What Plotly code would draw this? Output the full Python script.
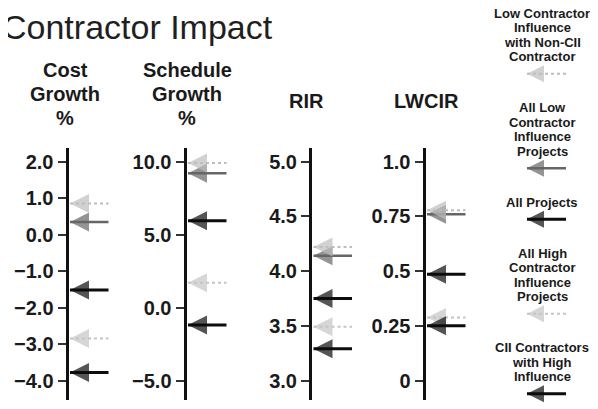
import plotly.graph_objects as go

W, H = 598, 409

# ---------------- data ----------------
series_names = [
    "Low Contractor Influence with Non-CII Contractor",
    "All Low Contractor Influence Projects",
    "All Projects",
    "All High Contractor Influence Projects",
    "CII Contractors with High Influence",
]
legend_lines = [
    ["Low Contractor", "Influence", "with Non-CII", "Contractor"],
    ["All Low", "Contractor", "Influence", "Projects"],
    ["All Projects"],
    ["All High", "Contractor", "Influence", "Projects"],
    ["CII Contractors", "with High", "Influence"],
]

header_lines = [["Cost", "Growth", "%"], ["Schedule", "Growth", "%"], ["RIR"], ["LWCIR"]]

cost_growth = [0.85, 0.34, -1.52, -2.85, -3.78]
schedule_growth = [9.9, 9.2, 5.95, 1.7, -1.2]
rir = [4.22, 4.14, 3.75, 3.49, 3.29]
lwcir = [0.777, 0.759, 0.485, 0.288, 0.25]

cost_ticks = [2.0, 1.0, 0.0, -1.0, -2.0, -3.0, -4.0]
cost_ticktext = ["2.0", "1.0", "0.0", "\u22121.0", "\u22122.0", "\u22123.0", "\u22124.0"]
schedule_ticks = [10.0, 5.0, 0.0, -5.0]
schedule_ticktext = ["10.0", "5.0", "0.0", "\u22125.0"]
rir_ticks = [5.0, 4.5, 4.0, 3.5, 3.0]
rir_ticktext = ["5.0", "4.5", "4.0", "3.5", "3.0"]
lwcir_ticks = [1.0, 0.75, 0.5, 0.25, 0.0]
lwcir_ticktext = ["1.0", "0.75", "0.5", "0.25", "0"]

columns = [
    (cost_growth, cost_ticks, cost_ticktext),
    (schedule_growth, schedule_ticks, schedule_ticktext),
    (rir, rir_ticks, rir_ticktext),
    (lwcir, lwcir_ticks, lwcir_ticktext),
]

# ---------------- style / layout ----------------
FONT = "Liberation Sans, Arial, Helvetica, sans-serif"
TXT = "#1a1a1a"
colors = ["#bdbdbd", "#666666", "#0d0d0d", "#c4c4c4", "#0d0d0d"]
dashes = ["dot", "solid", "solid", "dot", "solid"]
shaft_w = [2, 2.5, 3, 2, 3]
draw_order = [1, 0, 2, 3, 4]

OFF = 8  # page body margin offset (screen px -> figure px)

axis_px = [67 - OFF, 185 - OFF, 310.5 - OFF, 424 - OFF]   # vertical axis centres
header_cx = [65 - OFF, 187 - OFF, 306 - OFF, 426 - OFF]
AX_TOP, AX_BOT = 148 - OFF, 400 - OFF
TK_TOP, TK_BOT = 161.5 - OFF, 380.5 - OFF
LW = 3
XW = 50
TIP, TAIL, HEAD = 1.5, 40, 19


def pxx(x):
    return x / W


def pxy(y):
    return 1 - y / H


fig = go.Figure()
layout = dict(
    width=W, height=H, margin=dict(l=0, r=0, t=0, b=0, autoexpand=False),
    paper_bgcolor="white", plot_bgcolor="rgba(0,0,0,0)",
    showlegend=False, font=dict(family=FONT, color=TXT),
)

for i, (vals, tv, tt) in enumerate(columns):
    k = i + 1
    xa, ya = f"x{k}", f"y{k}"
    m, M = min(tv), max(tv)
    unit = (TK_BOT - TK_TOP) / (M - m)
    rng = [m - (AX_BOT - TK_BOT) / unit, M + (TK_TOP - AX_TOP) / unit]
    left = axis_px[i] + LW / 2
    layout[f"xaxis{k}"] = dict(domain=[pxx(left), pxx(left + XW)],
                               range=[0, XW], visible=False, anchor=ya)
    layout[f"yaxis{k}"] = dict(domain=[pxy(AX_BOT), pxy(AX_TOP)], range=rng, anchor=xa,
                               showline=True, linewidth=LW, linecolor="#111",
                               ticks="outside", ticklen=8, tickwidth=1.5, tickcolor="#333",
                               tickvals=tv, ticktext=tt, showgrid=False, zeroline=False,
                               automargin=False,
                               tickfont=dict(family=FONT, size=20, color=TXT, weight="bold"))
    for s in draw_order:
        fig.add_trace(go.Scatter(
            x=[TIP, TAIL], y=[vals[s], vals[s]], xaxis=xa, yaxis=ya,
            mode="lines+markers", name=series_names[s], cliponaxis=False,
            line=dict(color=colors[s], width=shaft_w[s], dash=dashes[s]),
            marker=dict(symbol=["arrow-left", "circle"], size=[HEAD, 0],
                        color=colors[s], line=dict(width=0)),
            hoverinfo="name+y"))

# legend (drawn in a pixel-space helper axis)
layout["xaxis5"] = dict(domain=[0, 1], range=[0, W], visible=False, anchor="y5")
layout["yaxis5"] = dict(domain=[0, 1], range=[H, 0], visible=False, anchor="x5")

annotations = []
LEG_CX = 542 - OFF
LEG_X0, LEG_X1 = 527 - OFF, 566 - OFF
LS = 14.5
y = 13.3 - OFF
for s, lines in enumerate(legend_lines):
    for j, ln in enumerate(lines):
        annotations.append(dict(x=pxx(LEG_CX), y=pxy(y + j * LS), xref="paper", yref="paper",
                                text=f"<b>{ln}</b>", showarrow=False, xanchor="center",
                                yanchor="middle", font=dict(family=FONT, size=13, color=TXT)))
    ay = y + (len(lines) - 1) * LS + 17
    fig.add_trace(go.Scatter(
        x=[LEG_X0, LEG_X1], y=[ay, ay], xaxis="x5", yaxis="y5", mode="lines+markers",
        name=series_names[s], cliponaxis=False,
        line=dict(color=colors[s], width=shaft_w[s], dash=dashes[s]),
        marker=dict(symbol=["arrow-left", "circle"], size=[HEAD - 2, 0],
                    color=colors[s], line=dict(width=0)),
        hoverinfo="name"))
    y = ay + 34

# column headers
for i, lines in enumerate(header_lines):
    if len(lines) == 1:
        ys = [101 - OFF]
    else:
        ys = [70 - OFF + 24 * j for j in range(len(lines))]
    for ln, yy in zip(lines, ys):
        annotations.append(dict(x=pxx(header_cx[i]), y=pxy(yy), xref="paper", yref="paper",
                                text=f"<b>{ln}</b>", showarrow=False, xanchor="center",
                                yanchor="middle", font=dict(family=FONT, size=20, color=TXT)))

# title
annotations.append(dict(x=pxx(0 - OFF), y=pxy(27 - OFF), xref="paper", yref="paper",
                        text="Contractor Impact", showarrow=False, xanchor="left",
                        yanchor="middle", font=dict(family=FONT, size=34, color="#1f1f1f")))

layout["annotations"] = annotations
fig.update_layout(**layout)
fig.write_html("out.html")
